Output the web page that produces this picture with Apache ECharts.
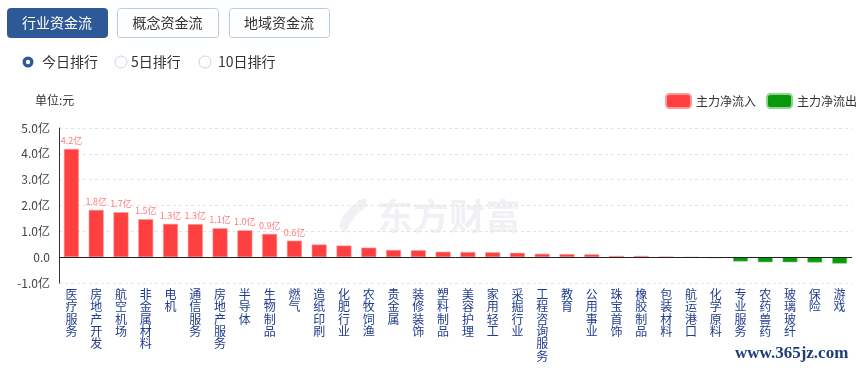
<!DOCTYPE html>
<html>
<head>
<meta charset="utf-8">
<script src="https://cdn.jsdelivr.net/npm/echarts@6/dist/echarts.min.js"></script>
<style>
html,body{margin:0;padding:0;background:#fff;}
#c{width:858px;height:368px;}
</style>
</head>
<body>
<div id="c"></div>
<script>
var categories = ['医疗服务','房地产开发','航空机场','非金属材料','电机','通信服务','房地产服务','半导体','生物制品','燃气',
  '造纸印刷','化肥行业','农牧饲渔','贵金属','装修装饰','塑料制品','美容护理','家用轻工','采掘行业','工程咨询服务',
  '教育','公用事业','珠宝首饰','橡胶制品','包装材料','航运港口','化学原料','专业服务','农药兽药','玻璃玻纤','保险','游戏'];
var values = [4.19,1.83,1.74,1.47,1.29,1.28,1.12,1.04,0.90,0.64,
  0.49,0.45,0.37,0.28,0.27,0.21,0.20,0.19,0.17,0.13,
  0.12,0.11,0.05,0.05,0.02,-0.01,-0.04,-0.17,-0.20,-0.20,-0.21,-0.25];
var yTicks = [-1,0,1,2,3,4,5];
var tabs = ['行业资金流','概念资金流','地域资金流'];
var radios = ['今日排行','5日排行','10日排行'];
var seriesNames = ['主力净流入','主力净流出'];

var inflow = values.map(function(v){return v > 0 ? v : '-';});
var outflow = values.map(function(v){return v < 0 ? v : '-';});
var FONT = '"Noto Sans CJK SC","Microsoft YaHei",sans-serif';
var RED = '#ff4040', GREEN = '#07990b', BLUE = '#2d5996';

var chart = echarts.init(document.getElementById('c'));

var graphics = [];
// tab buttons
var tabX = [7, 117, 229], tabW = [100, 101, 100];
tabs.forEach(function(t, i){
  graphics.push({type:'rect', left:tabX[i], top:8, z:10,
    shape:{width:tabW[i], height:29, r:3},
    style:{fill: i===0 ? BLUE : '#fff', stroke: i===0 ? BLUE : '#b5cbe0', lineWidth:1}});
  graphics.push({type:'text', z:11, x:tabX[i]+tabW[i]/2, y:22.5,
    style:{text:t, fill: i===0 ? '#fff' : '#333', font:'14px '+FONT, align:'center', verticalAlign:'middle'}});
});
// radios
var rX = [28, 121, 205], rTX = [42, 131, 218];
radios.forEach(function(t, i){
  if (i === 0) {
    graphics.push({type:'circle', z:10, shape:{cx:rX[i], cy:62, r:5.5}, style:{fill:BLUE}});
    graphics.push({type:'circle', z:11, shape:{cx:rX[i], cy:62, r:2.2}, style:{fill:'#fff'}});
  } else {
    graphics.push({type:'circle', z:10, shape:{cx:rX[i], cy:62, r:6}, style:{fill:'#fff', stroke:'#c3d5e6', lineWidth:1}});
  }
  graphics.push({type:'text', z:11, x:rTX[i], y:62,
    style:{text:t, fill:'#333', font:'14px '+FONT, verticalAlign:'middle'}});
});
// unit
graphics.push({type:'text', z:11, x:35, y:100, style:{text:'单位:元', fill:'#333', font:'12px '+FONT, verticalAlign:'middle'}});
// watermark
graphics.push({type:'polygon', z:0, silent:true,
  shape:{points:[[364,198],[352,206],[343,216],[339,226],[345,233],[350,224],[357,214],[367,205]]},
  style:{fill:'#f0f1f4'}});
graphics.push({type:'polygon', z:0, silent:true,
  shape:{points:[[358,200],[367,199],[366,207],[360,212]]},
  style:{fill:'#f0f1f4'}});
graphics.push({type:'text', z:0, silent:true, x:377, y:216,
  style:{text:'东方财富', fill:'#f0f1f4', font:'bold 36px '+FONT, verticalAlign:'middle'}});
// site mark
graphics.push({type:'text', z:20, x:735, y:354,
  style:{text:'www.365jz.com', fill:'#203e7c', font:'bold 17px "Liberation Serif",serif', verticalAlign:'middle'}});

chart.setOption({
  animation:false,
  textStyle:{fontFamily:FONT},
  graphic: graphics,
  legend:{
    right:1, top:93, padding:0, icon:'roundRect', itemWidth:25, itemHeight:14, itemGap:10,
    textStyle:{color:'#333', fontSize:12, fontFamily:FONT, lineHeight:14},
    data:[{name:seriesNames[0], itemStyle:{color:RED}}, {name:seriesNames[1], itemStyle:{color:GREEN}}]
  },
  grid:{left:59, right:6, top:128, bottom:85, containLabel:false},
  xAxis:{
    type:'category', data:categories,
    axisLine:{show:false}, axisTick:{show:false},
    axisLabel:{interval:0, margin:5, color:'#1f3c8e', fontSize:12, lineHeight:12.4, fontFamily:FONT,
      formatter:function(v){return v.split('').join('\n');}}
  },
  yAxis:{
    type:'value', min:yTicks[0], max:yTicks[yTicks.length-1], interval:1,
    axisLine:{show:true, lineStyle:{color:'#333'}},
    axisTick:{show:false},
    axisLabel:{color:'#444', fontSize:12, margin:9, fontFamily:FONT,
      formatter:function(v){return v === 0 ? '0.0' : v.toFixed(1)+'亿';}},
    splitLine:{show:true, lineStyle:{color:'#e3e3e3', type:[3,3]}}
  },
  series:[
    {name:seriesNames[0], type:'bar', data:inflow, barWidth:15, barGap:'-100%',
      itemStyle:{color:RED, borderColor:'#ff9a9a', borderWidth:0.6},
      label:{show:true, position:'top', distance:4, color:'#ff7b7b', fontSize:9, fontFamily:FONT,
        formatter:function(p){return p.value >= 0.5 ? p.value.toFixed(1)+'亿' : '';}},
      markLine:{silent:true, symbol:'none', label:{show:false},
        lineStyle:{color:'#222', type:'solid', width:1}, data:[{yAxis:0}]}
    },
    {name:seriesNames[1], type:'bar', data:outflow, barWidth:15, barGap:'-100%',
      itemStyle:{color:GREEN, borderColor:'#8fd48f', borderWidth:0.6}}
  ]
});
</script>
</body>
</html>
